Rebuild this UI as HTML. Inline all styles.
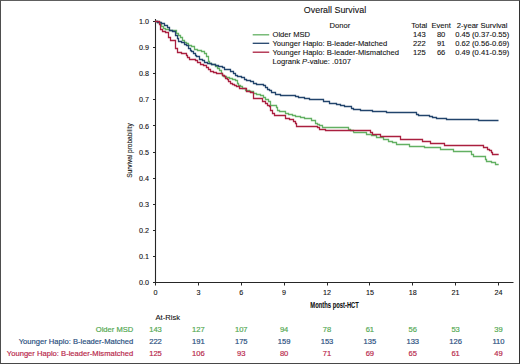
<!DOCTYPE html>
<html><head><meta charset="utf-8"><style>
html,body{margin:0;padding:0;background:#fff;}
body{width:520px;height:364px;overflow:hidden;position:relative;}
.frame{position:absolute;left:0;top:0;width:518px;height:362px;border-style:solid;border-width:1px;border-color:#5e5e5e #333 #474747 #4e4e4e;}
svg{position:absolute;left:0;top:0;}
.t{font-family:"Liberation Sans",sans-serif;font-size:7.60px;fill:#111;stroke:#111;stroke-width:0.1px;}
</style></head><body>
<svg width="520" height="364" viewBox="0 0 520 364">
<path d="M155.5 19 V282.5 H513.5" fill="none" stroke="#262626" stroke-width="1.1"/>
<line x1="153" y1="282.50" x2="155.5" y2="282.50" stroke="#262626" stroke-width="1"/>
<text x="149.00" y="285.10" text-anchor="end" class="t" textLength="10.01" lengthAdjust="spacingAndGlyphs" style="font-size:7.49px;">0.0</text>
<line x1="153" y1="256.50" x2="155.5" y2="256.50" stroke="#262626" stroke-width="1"/>
<text x="149.00" y="259.00" text-anchor="end" class="t" textLength="10.01" lengthAdjust="spacingAndGlyphs" style="font-size:7.49px;">0.1</text>
<line x1="153" y1="230.50" x2="155.5" y2="230.50" stroke="#262626" stroke-width="1"/>
<text x="149.00" y="232.90" text-anchor="end" class="t" textLength="10.01" lengthAdjust="spacingAndGlyphs" style="font-size:7.49px;">0.2</text>
<line x1="153" y1="204.50" x2="155.5" y2="204.50" stroke="#262626" stroke-width="1"/>
<text x="149.00" y="206.80" text-anchor="end" class="t" textLength="10.01" lengthAdjust="spacingAndGlyphs" style="font-size:7.49px;">0.3</text>
<line x1="153" y1="178.50" x2="155.5" y2="178.50" stroke="#262626" stroke-width="1"/>
<text x="149.00" y="180.70" text-anchor="end" class="t" textLength="10.01" lengthAdjust="spacingAndGlyphs" style="font-size:7.49px;">0.4</text>
<line x1="153" y1="152.50" x2="155.5" y2="152.50" stroke="#262626" stroke-width="1"/>
<text x="149.00" y="154.60" text-anchor="end" class="t" textLength="10.01" lengthAdjust="spacingAndGlyphs" style="font-size:7.49px;">0.5</text>
<line x1="153" y1="125.50" x2="155.5" y2="125.50" stroke="#262626" stroke-width="1"/>
<text x="149.00" y="128.50" text-anchor="end" class="t" textLength="10.01" lengthAdjust="spacingAndGlyphs" style="font-size:7.49px;">0.6</text>
<line x1="153" y1="99.50" x2="155.5" y2="99.50" stroke="#262626" stroke-width="1"/>
<text x="149.00" y="102.40" text-anchor="end" class="t" textLength="10.01" lengthAdjust="spacingAndGlyphs" style="font-size:7.49px;">0.7</text>
<line x1="153" y1="73.50" x2="155.5" y2="73.50" stroke="#262626" stroke-width="1"/>
<text x="149.00" y="76.30" text-anchor="end" class="t" textLength="10.01" lengthAdjust="spacingAndGlyphs" style="font-size:7.49px;">0.8</text>
<line x1="153" y1="47.50" x2="155.5" y2="47.50" stroke="#262626" stroke-width="1"/>
<text x="149.00" y="50.20" text-anchor="end" class="t" textLength="10.01" lengthAdjust="spacingAndGlyphs" style="font-size:7.49px;">0.9</text>
<line x1="153" y1="21.50" x2="155.5" y2="21.50" stroke="#262626" stroke-width="1"/>
<text x="149.00" y="24.10" text-anchor="end" class="t" textLength="10.01" lengthAdjust="spacingAndGlyphs" style="font-size:7.49px;">1.0</text>
<line x1="155.50" y1="282.5" x2="155.50" y2="285.5" stroke="#262626" stroke-width="1"/>
<text x="155.50" y="295.00" text-anchor="middle" class="t" textLength="4.00" lengthAdjust="spacingAndGlyphs" style="font-size:7.49px;">0</text>
<line x1="198.50" y1="282.5" x2="198.50" y2="285.5" stroke="#262626" stroke-width="1"/>
<text x="198.38" y="295.00" text-anchor="middle" class="t" textLength="4.00" lengthAdjust="spacingAndGlyphs" style="font-size:7.49px;">3</text>
<line x1="241.50" y1="282.5" x2="241.50" y2="285.5" stroke="#262626" stroke-width="1"/>
<text x="241.25" y="295.00" text-anchor="middle" class="t" textLength="4.00" lengthAdjust="spacingAndGlyphs" style="font-size:7.49px;">6</text>
<line x1="284.50" y1="282.5" x2="284.50" y2="285.5" stroke="#262626" stroke-width="1"/>
<text x="284.12" y="295.00" text-anchor="middle" class="t" textLength="4.00" lengthAdjust="spacingAndGlyphs" style="font-size:7.49px;">9</text>
<line x1="327.50" y1="282.5" x2="327.50" y2="285.5" stroke="#262626" stroke-width="1"/>
<text x="327.00" y="295.00" text-anchor="middle" class="t" textLength="8.01" lengthAdjust="spacingAndGlyphs" style="font-size:7.49px;">12</text>
<line x1="369.50" y1="282.5" x2="369.50" y2="285.5" stroke="#262626" stroke-width="1"/>
<text x="369.88" y="295.00" text-anchor="middle" class="t" textLength="8.01" lengthAdjust="spacingAndGlyphs" style="font-size:7.49px;">15</text>
<line x1="412.50" y1="282.5" x2="412.50" y2="285.5" stroke="#262626" stroke-width="1"/>
<text x="412.75" y="295.00" text-anchor="middle" class="t" textLength="8.01" lengthAdjust="spacingAndGlyphs" style="font-size:7.49px;">18</text>
<line x1="455.50" y1="282.5" x2="455.50" y2="285.5" stroke="#262626" stroke-width="1"/>
<text x="455.62" y="295.00" text-anchor="middle" class="t" textLength="8.01" lengthAdjust="spacingAndGlyphs" style="font-size:7.49px;">21</text>
<line x1="498.50" y1="282.5" x2="498.50" y2="285.5" stroke="#262626" stroke-width="1"/>
<text x="498.50" y="295.00" text-anchor="middle" class="t" textLength="8.01" lengthAdjust="spacingAndGlyphs" style="font-size:7.49px;">24</text>
<path d="M155.00 21.50 H157.50 V22.50 H159.60 H160.50 V24.50 H160.80 H161.50 V26.50 H162.00 H163.50 V28.50 H164.20 H165.50 V29.50 H167.70 H169.50 V30.50 H171.70 H173.50 V30.50 H175.20 H176.50 V33.50 H178.00 H178.50 V35.50 H179.80 H180.50 V37.50 H182.00 H182.50 V40.50 H182.70 H184.50 V42.50 H185.60 H186.50 V43.50 H187.60 H188.50 V45.50 H189.60 H191.50 V46.50 H193.70 H194.50 V49.50 H196.00 H197.50 V50.50 H198.80 H201.50 V51.50 H203.50 H204.50 V53.50 H205.80 H206.50 V56.50 H207.30 H208.50 V61.50 H209.00 H209.50 V63.50 H209.60 H211.50 V64.50 H214.20 H215.50 V66.50 H216.50 H217.50 V68.50 H218.80 H219.50 V70.50 H220.60 H221.50 V73.50 H221.70 H222.50 V75.50 H222.90 H223.50 V76.50 H224.60 H226.50 V77.50 H228.00 H229.50 V78.50 H231.50 H232.50 V79.50 H234.40 H235.50 V80.50 H236.20 H237.50 V83.50 H237.90 H238.50 V85.50 H239.60 H240.50 V86.50 H240.80 H242.50 V88.50 H243.70 H245.50 V90.50 H246.50 H249.50 V91.50 H252.30 H253.50 V93.50 H255.20 H256.50 V94.50 H258.10 H260.50 V95.50 H262.10 H263.50 V97.50 H264.40 H265.50 V99.50 H267.30 H268.50 V101.50 H269.60 H270.50 V105.50 H271.20 H273.50 V105.50 H275.80 H276.50 V107.50 H276.90 H277.50 V110.50 H278.10 H279.50 V111.50 H281.50 H283.50 V111.50 H285.00 H285.50 V113.50 H286.70 H288.50 V114.50 H290.20 H292.50 V115.50 H294.80 H295.50 V116.50 H296.50 H300.50 V117.50 H303.50 H304.50 V118.50 H304.60 H307.50 V118.50 H310.40 H311.50 V120.50 H312.10 H313.50 V120.50 H315.00 H315.50 V123.50 H316.20 H317.50 V124.50 H317.90 H319.50 V125.50 H321.90 H322.50 V127.50 H323.10 H335.50 V127.50 H348.10 H348.50 V129.50 H348.70 H350.50 V130.50 H352.70 H353.50 V132.50 H353.30 H359.50 V132.50 H366.00 H366.50 V134.50 H366.50 H371.50 V135.50 H375.80 H376.50 V137.50 H376.90 H379.50 V137.50 H382.70 H383.50 V139.50 H383.80 H385.50 V139.50 H387.90 H388.50 V141.50 H388.50 H392.50 V142.50 H396.00 H396.50 V144.50 H396.80 H402.50 V144.50 H408.70 H409.50 V146.50 H409.80 H424.50 V147.50 H440.00 H440.50 V149.50 H441.20 H446.50 V149.50 H452.40 H453.50 V151.50 H453.60 H462.50 V151.50 H470.90 H471.50 V154.50 H472.10 H473.50 V156.50 H474.00 H479.50 V156.50 H485.10 H485.50 V159.50 H486.30 H486.50 V161.50 H487.60 H491.50 V162.50 H494.40 H495.50 V164.50 H495.60 H497.50 V164.50 H498.70" fill="none" stroke="#62b062" stroke-width="1.30"/>
<path d="M155.00 21.50 H157.50 V22.50 H159.60 H161.50 V23.50 H163.70 H164.50 V25.50 H166.00 H167.50 V27.50 H168.30 H169.50 V30.50 H170.60 H172.50 V31.50 H174.60 H175.50 V35.50 H176.30 H177.50 V38.50 H178.00 H178.50 V41.50 H179.80 H181.50 V42.50 H183.80 H184.50 V44.50 H185.55 H186.50 V45.50 H187.30 H188.50 V48.50 H189.60 H190.50 V50.50 H190.80 H191.50 V51.50 H192.00 H193.50 V53.50 H194.80 H195.50 V55.50 H196.25 H196.50 V56.50 H197.70 H199.50 V59.50 H201.00 H202.50 V60.50 H203.00 H204.50 V62.50 H205.00 H207.50 V63.50 H209.60 H211.50 V64.50 H214.20 H215.50 V65.50 H216.50 H218.50 V66.50 H221.20 H222.50 V67.50 H223.50 H224.50 V69.50 H225.80 H227.50 V69.50 H229.20 H230.50 V71.50 H232.70 H233.50 V73.50 H234.40 H235.50 V75.50 H236.20 H237.50 V76.50 H239.60 H241.50 V77.50 H243.00 H244.50 V79.50 H245.40 H246.50 V80.50 H247.70 H250.50 V81.50 H252.30 H253.50 V83.50 H254.00 H256.50 V84.50 H259.20 H260.50 V84.50 H262.70 H263.50 V85.50 H264.40 H265.50 V87.50 H266.20 H267.50 V89.50 H268.50 H269.50 V90.50 H270.00 H271.50 V92.50 H273.50 H275.50 V94.50 H276.90 H277.50 V94.50 H278.10 H280.50 V95.50 H283.80 H284.50 V95.50 H285.00 H289.50 V95.50 H294.20 H295.50 V96.50 H296.50 H298.50 V97.50 H300.00 H304.50 V98.50 H308.10 H309.50 V99.50 H310.40 H316.50 V99.50 H323.10 H323.50 V101.50 H324.20 H326.50 V101.50 H328.50 H329.50 V103.50 H329.60 H332.50 V103.50 H335.40 H336.50 V104.50 H337.70 H340.50 V105.50 H344.00 H344.50 V106.50 H345.20 H348.50 V106.50 H351.00 H351.50 V108.50 H352.70 H353.50 V109.50 H353.80 H356.50 V109.50 H359.60 H360.50 V110.50 H360.80 H366.50 V110.50 H372.30 H372.50 V111.50 H373.50 H379.50 V111.50 H385.80 H386.50 V112.50 H386.90 H401.50 V112.50 H415.80 H416.50 V114.50 H417.50 H418.50 V115.50 H419.20 H423.50 V115.50 H428.50 H429.50 V116.50 H429.60 H432.50 V117.50 H436.00 H436.50 V118.50 H437.10 H441.50 V118.50 H445.80 H446.50 V119.50 H446.90 H462.50 V119.50 H478.00 H478.50 V120.50 H479.20 H488.50 V120.50 H498.50" fill="none" stroke="#22446c" stroke-width="1.30"/>
<path d="M155.00 21.50 H157.50 V21.50 H159.00 H159.50 V24.50 H159.60 H160.50 V29.50 H161.30 H162.50 V31.50 H163.70 H165.50 V32.50 H167.70 H168.50 V37.50 H170.00 H170.50 V40.50 H171.70 H173.50 V40.50 H175.20 H175.50 V48.50 H176.30 H177.50 V52.50 H178.00 H181.50 V53.50 H185.60 H186.50 V55.50 H187.05 H187.50 V57.50 H188.50 H189.50 V59.50 H189.60 H192.50 V59.50 H195.40 H195.50 V60.50 H196.00 H197.50 V62.50 H199.00 H200.50 V64.50 H202.00 H203.50 V65.50 H205.00 H206.50 V67.50 H207.30 H208.50 V69.50 H209.60 H210.50 V71.50 H211.90 H213.50 V72.50 H215.40 H216.50 V73.50 H217.70 H219.50 V73.50 H221.20 H222.50 V75.50 H223.50 H224.50 V76.50 H225.20 H225.50 V78.50 H226.30 H227.50 V79.50 H228.00 H228.50 V81.50 H229.80 H230.50 V83.50 H231.50 H232.50 V84.50 H233.80 H234.50 V85.50 H235.60 H236.50 V86.50 H237.30 H239.50 V88.50 H240.80 H243.50 V88.50 H245.40 H246.50 V91.50 H247.70 H250.50 V92.50 H252.90 H253.50 V98.50 H253.50 H257.50 V98.50 H261.50 H262.50 V101.50 H263.80 H265.50 V103.50 H266.20 H267.50 V105.50 H269.00 H269.50 V106.50 H270.00 H270.50 V110.50 H271.70 H272.50 V113.50 H273.50 H274.50 V115.50 H275.20 H280.50 V115.50 H285.00 H285.50 V118.50 H286.20 H289.50 V119.50 H293.10 H293.50 V121.50 H294.80 H295.50 V123.50 H296.00 H296.50 V126.50 H297.70 H306.50 V126.50 H316.20 H317.50 V127.50 H317.90 H319.50 V129.50 H320.20 H325.50 V130.50 H330.00 H350.50 V130.50 H370.00 H370.50 V132.50 H371.10 H372.50 V134.50 H372.90 H376.50 V134.50 H380.40 H380.50 V136.50 H381.50 H390.50 V136.50 H400.00 H400.50 V139.50 H401.20 H411.50 V139.50 H421.90 H422.50 V141.50 H423.10 H426.50 V141.50 H430.20 H430.50 V143.50 H430.80 H437.50 V143.50 H444.00 H444.50 V145.50 H444.60 H463.50 V145.50 H482.60 H483.50 V147.50 H483.90 H485.50 V147.50 H486.30 H487.50 V149.50 H488.20 H489.50 V150.50 H490.70 H491.50 V152.50 H491.90 H492.50 V154.50 H493.70 H496.50 V154.50 H498.70" fill="none" stroke="#aa1f3f" stroke-width="1.30"/>
<text x="0" y="0" class="t" transform="translate(132.1,150.55) rotate(-90) scale(0.928,1)" text-anchor="middle" style="font-size:7px;fill:#111">Survival probability</text>
<text x="0" y="0" class="t" transform="translate(334.6,308.1) scale(0.696,1)" text-anchor="middle" style="font-size:8.4px;font-weight:bold;fill:#111">Months post-HCT</text>
<text x="335.00" y="13.20" text-anchor="middle" class="t" textLength="62.32" lengthAdjust="spacingAndGlyphs" style="font-size:9.40px;">Overall Survival</text>
<text x="329.60" y="27.50" text-anchor="start" class="t" textLength="20.70" lengthAdjust="spacingAndGlyphs" style="font-size:7.90px;">Donor</text>
<text x="419.30" y="27.80" text-anchor="middle" class="t" textLength="16.05" lengthAdjust="spacingAndGlyphs" style="font-size:7.90px;">Total</text>
<text x="441.10" y="27.80" text-anchor="middle" class="t" textLength="19.43" lengthAdjust="spacingAndGlyphs" style="font-size:7.90px;">Event</text>
<text x="482.20" y="27.80" text-anchor="middle" class="t" textLength="50.68" lengthAdjust="spacingAndGlyphs" style="font-size:7.90px;">2-year Survival</text>
<line x1="252.7" y1="34.8" x2="269.2" y2="34.8" stroke="#62b062" stroke-width="1.3"/>
<text x="272.50" y="37.10" text-anchor="start" class="t" textLength="37.58" lengthAdjust="spacingAndGlyphs" style="font-size:7.90px;">Older MSD</text>
<text x="419.30" y="37.10" text-anchor="middle" class="t" textLength="12.68" lengthAdjust="spacingAndGlyphs" style="font-size:7.90px;">143</text>
<text x="441.10" y="37.10" text-anchor="middle" class="t" textLength="8.45" lengthAdjust="spacingAndGlyphs" style="font-size:7.90px;">80</text>
<text x="482.20" y="37.10" text-anchor="middle" class="t" textLength="54.08" lengthAdjust="spacingAndGlyphs" style="font-size:7.90px;">0.45 (0.37-0.55)</text>
<line x1="252.7" y1="43.3" x2="269.2" y2="43.3" stroke="#22446c" stroke-width="1.3"/>
<text x="272.50" y="45.80" text-anchor="start" class="t" textLength="114.64" lengthAdjust="spacingAndGlyphs" style="font-size:7.90px;">Younger Haplo: B-leader-Matched</text>
<text x="419.30" y="45.80" text-anchor="middle" class="t" textLength="12.68" lengthAdjust="spacingAndGlyphs" style="font-size:7.90px;">222</text>
<text x="441.10" y="45.80" text-anchor="middle" class="t" textLength="8.45" lengthAdjust="spacingAndGlyphs" style="font-size:7.90px;">91</text>
<text x="482.20" y="45.80" text-anchor="middle" class="t" textLength="54.08" lengthAdjust="spacingAndGlyphs" style="font-size:7.90px;">0.62 (0.56-0.69)</text>
<line x1="252.7" y1="52.2" x2="269.2" y2="52.2" stroke="#aa1f3f" stroke-width="1.3"/>
<text x="272.50" y="54.60" text-anchor="start" class="t" textLength="126.45" lengthAdjust="spacingAndGlyphs" style="font-size:7.90px;">Younger Haplo: B-leader-Mismatched</text>
<text x="419.30" y="54.60" text-anchor="middle" class="t" textLength="12.68" lengthAdjust="spacingAndGlyphs" style="font-size:7.90px;">125</text>
<text x="441.10" y="54.60" text-anchor="middle" class="t" textLength="8.45" lengthAdjust="spacingAndGlyphs" style="font-size:7.90px;">66</text>
<text x="482.20" y="54.60" text-anchor="middle" class="t" textLength="54.08" lengthAdjust="spacingAndGlyphs" style="font-size:7.90px;">0.49 (0.41-0.59)</text>
<text x="272.50" y="64.00" text-anchor="start" class="t" textLength="78.59" lengthAdjust="spacingAndGlyphs" style="font-size:7.90px;">Logrank <tspan font-style="italic">P</tspan>-value: .0107</text>
<text x="167.80" y="320.40" text-anchor="middle" class="t" textLength="24.49" lengthAdjust="spacingAndGlyphs" style="font-size:7.90px;">At-Risk</text>
<text x="133.30" y="332.00" text-anchor="end" class="t" textLength="37.58" lengthAdjust="spacingAndGlyphs" style="font-size:7.90px;fill:#52a851;stroke:#52a851;stroke-width:0.18px">Older MSD</text>
<text x="155.50" y="332.00" text-anchor="middle" class="t" textLength="12.68" lengthAdjust="spacingAndGlyphs" style="font-size:7.90px;fill:#52a851;stroke:#52a851;stroke-width:0.18px">143</text>
<text x="198.38" y="332.00" text-anchor="middle" class="t" textLength="12.68" lengthAdjust="spacingAndGlyphs" style="font-size:7.90px;fill:#52a851;stroke:#52a851;stroke-width:0.18px">127</text>
<text x="241.25" y="332.00" text-anchor="middle" class="t" textLength="12.68" lengthAdjust="spacingAndGlyphs" style="font-size:7.90px;fill:#52a851;stroke:#52a851;stroke-width:0.18px">107</text>
<text x="284.12" y="332.00" text-anchor="middle" class="t" textLength="8.45" lengthAdjust="spacingAndGlyphs" style="font-size:7.90px;fill:#52a851;stroke:#52a851;stroke-width:0.18px">94</text>
<text x="327.00" y="332.00" text-anchor="middle" class="t" textLength="8.45" lengthAdjust="spacingAndGlyphs" style="font-size:7.90px;fill:#52a851;stroke:#52a851;stroke-width:0.18px">78</text>
<text x="369.88" y="332.00" text-anchor="middle" class="t" textLength="8.45" lengthAdjust="spacingAndGlyphs" style="font-size:7.90px;fill:#52a851;stroke:#52a851;stroke-width:0.18px">61</text>
<text x="412.75" y="332.00" text-anchor="middle" class="t" textLength="8.45" lengthAdjust="spacingAndGlyphs" style="font-size:7.90px;fill:#52a851;stroke:#52a851;stroke-width:0.18px">56</text>
<text x="455.62" y="332.00" text-anchor="middle" class="t" textLength="8.45" lengthAdjust="spacingAndGlyphs" style="font-size:7.90px;fill:#52a851;stroke:#52a851;stroke-width:0.18px">53</text>
<text x="498.50" y="332.00" text-anchor="middle" class="t" textLength="8.45" lengthAdjust="spacingAndGlyphs" style="font-size:7.90px;fill:#52a851;stroke:#52a851;stroke-width:0.18px">39</text>
<text x="133.30" y="343.80" text-anchor="end" class="t" textLength="114.64" lengthAdjust="spacingAndGlyphs" style="font-size:7.90px;fill:#294e7e;stroke:#294e7e;stroke-width:0.18px">Younger Haplo: B-leader-Matched</text>
<text x="155.50" y="343.80" text-anchor="middle" class="t" textLength="12.68" lengthAdjust="spacingAndGlyphs" style="font-size:7.90px;fill:#294e7e;stroke:#294e7e;stroke-width:0.18px">222</text>
<text x="198.38" y="343.80" text-anchor="middle" class="t" textLength="12.68" lengthAdjust="spacingAndGlyphs" style="font-size:7.90px;fill:#294e7e;stroke:#294e7e;stroke-width:0.18px">191</text>
<text x="241.25" y="343.80" text-anchor="middle" class="t" textLength="12.68" lengthAdjust="spacingAndGlyphs" style="font-size:7.90px;fill:#294e7e;stroke:#294e7e;stroke-width:0.18px">175</text>
<text x="284.12" y="343.80" text-anchor="middle" class="t" textLength="12.68" lengthAdjust="spacingAndGlyphs" style="font-size:7.90px;fill:#294e7e;stroke:#294e7e;stroke-width:0.18px">159</text>
<text x="327.00" y="343.80" text-anchor="middle" class="t" textLength="12.68" lengthAdjust="spacingAndGlyphs" style="font-size:7.90px;fill:#294e7e;stroke:#294e7e;stroke-width:0.18px">153</text>
<text x="369.88" y="343.80" text-anchor="middle" class="t" textLength="12.68" lengthAdjust="spacingAndGlyphs" style="font-size:7.90px;fill:#294e7e;stroke:#294e7e;stroke-width:0.18px">135</text>
<text x="412.75" y="343.80" text-anchor="middle" class="t" textLength="12.68" lengthAdjust="spacingAndGlyphs" style="font-size:7.90px;fill:#294e7e;stroke:#294e7e;stroke-width:0.18px">133</text>
<text x="455.62" y="343.80" text-anchor="middle" class="t" textLength="12.68" lengthAdjust="spacingAndGlyphs" style="font-size:7.90px;fill:#294e7e;stroke:#294e7e;stroke-width:0.18px">126</text>
<text x="498.50" y="343.80" text-anchor="middle" class="t" textLength="12.12" lengthAdjust="spacingAndGlyphs" style="font-size:7.90px;fill:#294e7e;stroke:#294e7e;stroke-width:0.18px">110</text>
<text x="133.30" y="355.80" text-anchor="end" class="t" textLength="126.45" lengthAdjust="spacingAndGlyphs" style="font-size:7.90px;fill:#b8274a;stroke:#b8274a;stroke-width:0.18px">Younger Haplo: B-leader-Mismatched</text>
<text x="155.50" y="355.80" text-anchor="middle" class="t" textLength="12.68" lengthAdjust="spacingAndGlyphs" style="font-size:7.90px;fill:#b8274a;stroke:#b8274a;stroke-width:0.18px">125</text>
<text x="198.38" y="355.80" text-anchor="middle" class="t" textLength="12.68" lengthAdjust="spacingAndGlyphs" style="font-size:7.90px;fill:#b8274a;stroke:#b8274a;stroke-width:0.18px">106</text>
<text x="241.25" y="355.80" text-anchor="middle" class="t" textLength="8.45" lengthAdjust="spacingAndGlyphs" style="font-size:7.90px;fill:#b8274a;stroke:#b8274a;stroke-width:0.18px">93</text>
<text x="284.12" y="355.80" text-anchor="middle" class="t" textLength="8.45" lengthAdjust="spacingAndGlyphs" style="font-size:7.90px;fill:#b8274a;stroke:#b8274a;stroke-width:0.18px">80</text>
<text x="327.00" y="355.80" text-anchor="middle" class="t" textLength="8.45" lengthAdjust="spacingAndGlyphs" style="font-size:7.90px;fill:#b8274a;stroke:#b8274a;stroke-width:0.18px">71</text>
<text x="369.88" y="355.80" text-anchor="middle" class="t" textLength="8.45" lengthAdjust="spacingAndGlyphs" style="font-size:7.90px;fill:#b8274a;stroke:#b8274a;stroke-width:0.18px">69</text>
<text x="412.75" y="355.80" text-anchor="middle" class="t" textLength="8.45" lengthAdjust="spacingAndGlyphs" style="font-size:7.90px;fill:#b8274a;stroke:#b8274a;stroke-width:0.18px">65</text>
<text x="455.62" y="355.80" text-anchor="middle" class="t" textLength="8.45" lengthAdjust="spacingAndGlyphs" style="font-size:7.90px;fill:#b8274a;stroke:#b8274a;stroke-width:0.18px">61</text>
<text x="498.50" y="355.80" text-anchor="middle" class="t" textLength="8.45" lengthAdjust="spacingAndGlyphs" style="font-size:7.90px;fill:#b8274a;stroke:#b8274a;stroke-width:0.18px">49</text>
</svg>
<div class="frame"></div>
</body></html>
